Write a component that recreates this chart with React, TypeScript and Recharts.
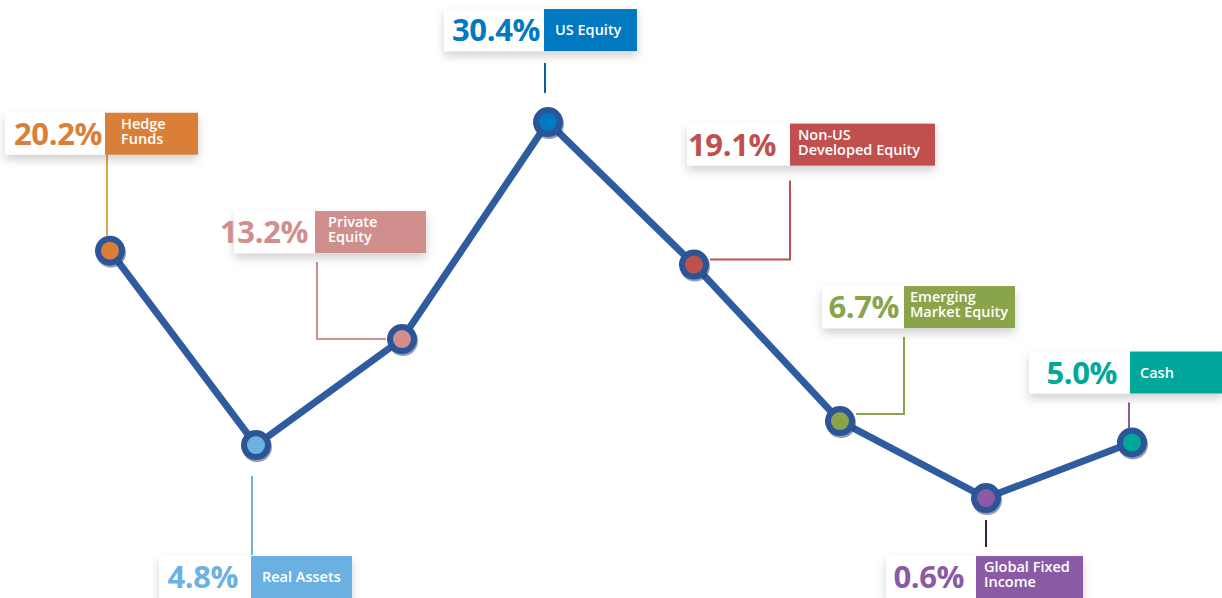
import React from 'react';
import { LineChart, Line, XAxis, YAxis, LabelList } from 'recharts';

const categories = ['Hedge Funds', 'Real Assets', 'Private Equity', 'US Equity', 'Non-US Developed Equity', 'Emerging Market Equity', 'Global Fixed Income', 'Cash'];
const allocations = [20.2, 4.8, 13.2, 30.4, 19.1, 6.7, 0.6, 5.0];
const nameLines = [['Hedge', 'Funds'], ['Real Assets'], ['Private', 'Equity'], ['US Equity'], ['Non-US', 'Developed Equity'], ['Emerging', 'Market Equity'], ['Global Fixed', 'Income'], ['Cash']];
const colors = ['#D97F38', '#6BB1E1', '#D08F8C', '#0079C1', '#C0504D', '#8AA44A', '#8A5AA5', '#00A89C'];
const connectorColors = ['#DDA843', '#6BB1E1', '#D08F8C', '#0B5FA5', '#C0504D', '#8AA44A', '#2E2440', '#8A5AA5'];

// label box layout relative to the data point (styling only)
const layouts = [
  { dx: -105, dy: -138, wW: 100, cW: 93, tPad: 3, nPad: 16, conn: [[-3, -96], [-3, -15]] },
  { dx: -97, dy: 111, wW: 92, cW: 101, tPad: 13, nPad: 11, conn: [[-4, 31], [-4, 110]] },
  { dx: -168, dy: -128, wW: 81, cW: 111, tPad: 7, nPad: 13, conn: [[-85, -77], [-85, 0], [-16, 0]] },
  { dx: -104, dy: -113, wW: 100, cW: 93, tPad: 4, nPad: 11, conn: [[-3, -59], [-3, -29]] },
  { dx: -7, dy: -141, wW: 103, cW: 145, tPad: 14, nPad: 8, conn: [[96, -84], [96, -5], [16, -5]] },
  { dx: -18, dy: -135, wW: 82, cW: 111, tPad: 5, nPad: 6, conn: [[64, -84], [64, -7], [16, -7]] },
  { dx: -100, dy: 58, wW: 90, cW: 107, tPad: 12, nPad: 8, conn: [[0, 22], [0, 49]] },
  { dx: -103, dy: -91, wW: 101, cW: 92, tPad: 13, nPad: 10, conn: [[-3, -40], [-3, -14]] },
];

const data = categories.map((c, i) => ({ name: c, value: allocations[i] }));

const FONT = '"Open Sans", "DejaVu Sans", sans-serif';

const Dot = (props: any) => {
  const { cx, cy, index } = props;
  if (cx == null || cy == null) return null;
  return (
    <g key={`dot-${index}`}>
      <circle cx={cx + 1} cy={cy + 2} r={15} fill="#1F3F70" opacity={0.5} />
      <circle cx={cx} cy={cy} r={15} fill="#2B5597" />
      <circle cx={cx} cy={cy} r={9} fill={colors[index]} />
    </g>
  );
};

const Label = (props: any) => {
  const { x, y, index } = props;
  if (x == null || y == null) return null;
  const L = layouts[index];
  const bx = x + L.dx;
  const by = y + L.dy;
  const h = 42;
  const lines = nameLines[index];
  const pts = L.conn.map((p) => `${x + p[0]},${y + p[1]}`).join(' ');
  const tx = bx + L.wW + L.nPad;
  const ty = by + h / 2 + (lines.length === 2 ? -5 : 5);
  return (
    <g>
      <polyline points={pts} fill="none" stroke={connectorColors[index]} strokeWidth={2} />
      <g filter="url(#boxShadow)">
        <rect x={bx} y={by} width={L.wW} height={h} fill="#FFFFFF" />
        <rect x={bx + L.wW} y={by} width={L.cW} height={h} fill={colors[index]} />
      </g>
      <text
        x={bx + L.wW - L.tPad}
        y={by + h / 2 + 11}
        textAnchor="end"
        fontFamily={FONT}
        fontWeight={700}
        fontSize={31}
        letterSpacing={-0.4}
        fill={colors[index]}
      >
        {allocations[index].toFixed(1) + '%'}
      </text>
      <text x={tx} y={ty} fontFamily={FONT} fontWeight={600} fontSize={14.5} fill="#FFFFFF">
        {lines.map((ln, k) => (
          <tspan key={k} x={tx} dy={k === 0 ? 0 : 15}>
            {ln}
          </tspan>
        ))}
      </text>
    </g>
  );
};

export default function App() {
  return (
    <div style={{ position: 'absolute', left: 0, top: 0, width: 1222, height: 598, background: '#FFFFFF' }}>
      <LineChart width={1222} height={598} data={data} margin={{ top: 64, right: 90, bottom: 92.4, left: 110 }}>
        <defs>
          <filter id="boxShadow" x="-20%" y="-40%" width="140%" height="200%">
            <feDropShadow dx={0} dy={5} stdDeviation={5} floodColor="#000000" floodOpacity={0.18} />
          </filter>
        </defs>
        <XAxis dataKey="name" hide />
        <YAxis hide domain={[0, 35]} />
        <Line
          type="linear"
          dataKey="value"
          stroke="#2E5C9E"
          strokeWidth={7}
          dot={<Dot />}
          activeDot={false}
          isAnimationActive={false}
        >
          <LabelList dataKey="value" content={<Label />} />
        </Line>
      </LineChart>
    </div>
  );
}
